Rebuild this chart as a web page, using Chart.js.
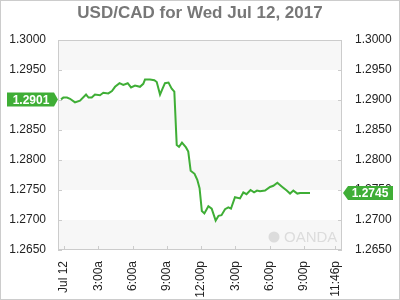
<!DOCTYPE html>
<html>
<head>
<meta charset="utf-8">
<script src="https://cdn.jsdelivr.net/npm/chart.js@4/dist/chart.umd.min.js"></script>
<style>
  html, body { margin: 0; padding: 0; background: #fff; }
  #wrap { width: 400px; height: 300px; }
</style>
</head>
<body>
<div id="wrap"><canvas id="chartCad" width="400" height="300"></canvas></div>
<script>
// heures depuis minuit (Jul 12) et cours USD/CAD
var hours = [-0.26, -0.06, 0.26, 0.53, 0.96, 1.40, 1.93, 2.15, 2.43, 2.71, 3.15, 3.44, 3.88, 4.20, 4.47, 4.86,
    5.19, 5.58, 5.87, 6.22, 6.65, 6.94, 7.09, 7.53, 7.91, 8.12, 8.41, 8.61, 8.84, 9.15, 9.43, 9.66,
    9.87, 10.07, 10.33, 10.68, 10.88, 11.09, 11.43, 11.67, 11.87, 12.07, 12.29, 12.64, 12.93, 13.28,
    13.53, 13.79, 14.10, 14.39, 14.62, 14.97, 15.41, 15.70, 15.98, 16.33, 16.64, 16.90, 17.16, 17.60,
    18.04, 18.33, 18.68, 19.06, 19.50, 19.79, 20.08, 20.43, 20.67, 21.10, 21.54];
var rates = [1.2901, 1.2904, 1.2904, 1.2902, 1.2896, 1.2899, 1.2909, 1.2904, 1.2904, 1.2909, 1.2908, 1.2912,
    1.2911, 1.2915, 1.2922, 1.2928, 1.2925, 1.2928, 1.2921, 1.2924, 1.2922, 1.2927, 1.2934, 1.2934,
    1.2933, 1.2930, 1.2909, 1.2918, 1.2928, 1.2929, 1.2919, 1.2914, 1.2825, 1.2822, 1.2829, 1.2821,
    1.2814, 1.2782, 1.2777, 1.2767, 1.2753, 1.2715, 1.2711, 1.2723, 1.2719, 1.2699, 1.2707, 1.2708,
    1.2718, 1.2721, 1.2719, 1.2738, 1.2736, 1.2746, 1.2743, 1.2750, 1.2746, 1.2749, 1.2748, 1.2749,
    1.2755, 1.2757, 1.2762, 1.2756, 1.2749, 1.2744, 1.2749, 1.2744, 1.2745, 1.2745, 1.2745];

var tickHours = [0, 3, 6, 9, 12, 15, 18, 21, 23.767];
var tickLabels = ["Jul 12", "3:00a", "6:00a", "9:00a", "12:00p", "3:00p", "6:00p", "9:00p", "11:46p"];

var openRate = 1.2901;
var lastRate = 1.2745;

var vert = "#3fae36";
var police = "'Liberation Sans', Arial, sans-serif";

var points = hours.map(function (h, i) { return { x: h, y: rates[i] }; });

// fond a bandes, cadre, petits traits, filigrane
var decor = {
    id: "decor",
    beforeDatasetsDraw: function (chart) {
        var c = chart.ctx, a = chart.chartArea, y = chart.scales.y, x = chart.scales.x;
        c.save();
        var ticks = y.ticks;
        for (var i = 0; i < ticks.length - 1; i++) {
            if (i % 2 === 0) {
                var y1 = y.getPixelForValue(ticks[i].value);
                var y2 = y.getPixelForValue(ticks[i + 1].value);
                c.fillStyle = "#f7f7f7";
                c.fillRect(a.left, y2, a.right - a.left, y1 - y2);
            }
        }
        // filigrane OANDA
        c.fillStyle = "#dcdcdc";
        c.beginPath();
        c.arc(a.right - 68, a.bottom - 13, 5.5, 0, Math.PI * 2);
        c.fill();
        c.font = "15px " + police;
        c.textBaseline = "middle";
        c.textAlign = "left";
        c.fillText("OANDA", a.right - 58, a.bottom - 12);

        c.strokeStyle = "#cccccc";
        c.lineWidth = 1;
        c.strokeRect(Math.round(a.left) + 0.5, Math.round(a.top) + 0.5, Math.round(a.right - a.left) - 1, Math.round(a.bottom - a.top) - 1);

        c.beginPath();
        y.ticks.forEach(function (t) {
            var py = Math.round(y.getPixelForValue(t.value)) + 0.5;
            c.moveTo(a.left, py); c.lineTo(a.left + 4, py);
            c.moveTo(a.right - 4, py); c.lineTo(a.right, py);
        });
        x.ticks.forEach(function (t) {
            var px = Math.round(x.getPixelForValue(t.value)) + 0.5;
            c.moveTo(px, a.bottom); c.lineTo(px, a.bottom - 4);
        });
        c.stroke();
        c.restore();
    },
    afterDraw: function (chart) {
        var c = chart.ctx, a = chart.chartArea, y = chart.scales.y;
        c.save();
        c.fillStyle = vert;
        // etiquette ouverture (gauche)
        var yo = y.getPixelForValue(openRate);
        c.beginPath();
        c.moveTo(7, yo - 7); c.lineTo(54, yo - 7); c.lineTo(58, yo); c.lineTo(54, yo + 7); c.lineTo(7, yo + 7);
        c.closePath(); c.fill();
        // etiquette dernier cours (droite)
        var yl = y.getPixelForValue(lastRate);
        c.beginPath();
        c.moveTo(a.right + 1, yl); c.lineTo(a.right + 6, yl - 7); c.lineTo(393, yl - 7); c.lineTo(393, yl + 7); c.lineTo(a.right + 6, yl + 7);
        c.closePath(); c.fill();

        c.fillStyle = "#ffffff";
        c.font = "bold 12px " + police;
        c.textBaseline = "middle";
        c.textAlign = "center";
        c.fillText(openRate.toFixed(4), 31, yo + 1);
        c.fillText(lastRate.toFixed(4), 370, yl + 1);

        c.strokeStyle = "#cccccc";
        c.strokeRect(0.5, 0.5, 399, 299);
        c.restore();
    }
};

var ctx = document.getElementById("chartCad").getContext("2d");

var chartCad = new Chart(ctx, {
    type: "line",
    data: {
        datasets: [{
            data: points,
            borderColor: vert,
            borderWidth: 2,
            pointRadius: 0,
            tension: 0,
            fill: false
        }]
    },
    options: {
        responsive: false,
        animation: false,
        layout: { padding: 0 },
        plugins: {
            legend: { display: false },
            tooltip: { enabled: false },
            title: {
                display: true,
                text: "USD/CAD for Wed Jul 12, 2017",
                color: "#777777",
                font: { family: police, size: 17, weight: "bold" },
                padding: { top: 3, bottom: 16.6 }
            }
        },
        scales: {
            x: {
                type: "linear",
                min: -0.525,
                max: 24.34,
                grid: { display: false },
                border: { display: false },
                afterBuildTicks: function (scale) {
                    scale.ticks = tickHours.map(function (h) { return { value: h }; });
                },
                afterFit: function (scale) { scale.height = 50; },
                ticks: {
                    autoSkip: false,
                    minRotation: 90,
                    maxRotation: 90,
                    padding: 3,
                    color: "#222222",
                    font: { family: police, size: 12 },
                    callback: function (v, i) { return tickLabels[i]; }
                }
            },
            y: {
                position: "left",
                min: 1.265,
                max: 1.3,
                grid: { display: false },
                border: { display: false },
                afterFit: function (scale) { scale.width = 58; },
                ticks: {
                    stepSize: 0.005,
                    padding: 4,
                    color: "#222222",
                    font: { family: police, size: 12 },
                    callback: function (v) { return Number(v).toFixed(4); }
                }
            },
            y2: {
                position: "right",
                min: 1.265,
                max: 1.3,
                grid: { display: false },
                border: { display: false },
                afterFit: function (scale) { scale.width = 58; },
                ticks: {
                    stepSize: 0.005,
                    padding: 5,
                    color: "#222222",
                    font: { family: police, size: 12 },
                    callback: function (v) { return Number(v).toFixed(4); }
                }
            }
        }
    },
    plugins: [decor]
});
</script>
</body>
</html>
